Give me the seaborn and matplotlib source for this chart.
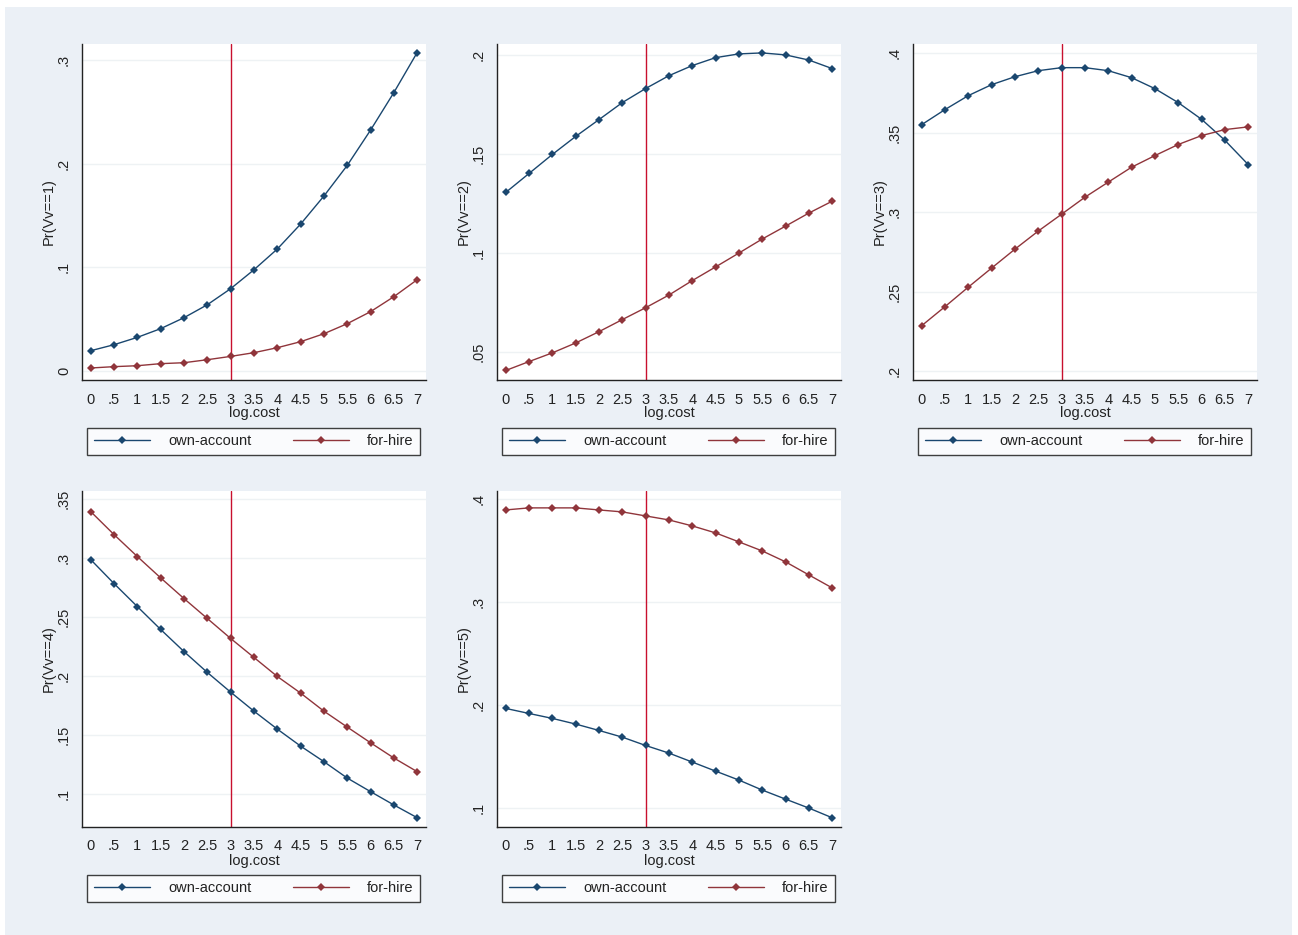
import matplotlib
matplotlib.use("Agg")
import matplotlib.pyplot as plt
from matplotlib.patches import Rectangle
import seaborn as sns
import pandas as pd

sns.set_style("white")
plt.rcParams['font.family'] = ['Liberation Sans', 'DejaVu Sans']

# ---------------- data ----------------
log_cost = [0, 0.5, 1, 1.5, 2, 2.5, 3, 3.5, 4, 4.5, 5, 5.5, 6, 6.5, 7]
x_tick_labels = ["0", ".5", "1", "1.5", "2", "2.5", "3", "3.5", "4", "4.5",
                 "5", "5.5", "6", "6.5", "7"]

own_vv1 = [0.0193, 0.0251, 0.0322, 0.0406, 0.0512, 0.0637, 0.0792, 0.0975,
           0.1175, 0.1416, 0.1687, 0.1983, 0.2324, 0.2687, 0.3074]
hire_vv1 = [0.0026, 0.0039, 0.0048, 0.0068, 0.0077, 0.0106, 0.0138, 0.0174,
            0.0222, 0.0280, 0.0357, 0.0454, 0.0570, 0.0715, 0.0879]

own_vv2 = [0.1307, 0.1403, 0.1499, 0.1590, 0.1675, 0.1761, 0.1832, 0.1897,
           0.1948, 0.1988, 0.2007, 0.2012, 0.2002, 0.1976, 0.1933]
hire_vv2 = [0.0408, 0.0453, 0.0497, 0.0547, 0.0604, 0.0665, 0.0725, 0.0789,
            0.0862, 0.0931, 0.1001, 0.1072, 0.1137, 0.1203, 0.1263]

own_vv3 = [0.3551, 0.3646, 0.3734, 0.3803, 0.3853, 0.3891, 0.3910, 0.3910,
           0.3891, 0.3847, 0.3778, 0.3690, 0.3585, 0.3453, 0.3300]
hire_vv3 = [0.2285, 0.2405, 0.2528, 0.2648, 0.2767, 0.2881, 0.2987, 0.3094,
            0.3189, 0.3283, 0.3356, 0.3426, 0.3482, 0.3520, 0.3537]

own_vv4 = [0.2989, 0.2786, 0.2591, 0.2397, 0.2210, 0.2033, 0.1866, 0.1705,
           0.1553, 0.1409, 0.1277, 0.1138, 0.1023, 0.0910, 0.0802]
hire_vv4 = [0.3396, 0.3201, 0.3015, 0.2834, 0.2659, 0.2490, 0.2321, 0.2160,
            0.1999, 0.1858, 0.1705, 0.1570, 0.1437, 0.1308, 0.1192]

own_vv5 = [0.1968, 0.1919, 0.1871, 0.1816, 0.1754, 0.1689, 0.1608, 0.1534,
           0.1447, 0.1359, 0.1272, 0.1175, 0.1087, 0.1000, 0.0906]
hire_vv5 = [0.3896, 0.3916, 0.3916, 0.3916, 0.3896, 0.3877, 0.3838, 0.3799,
            0.3741, 0.3673, 0.3586, 0.3498, 0.3392, 0.3265, 0.3139]

y_labels = ["Pr(Vv==1)", "Pr(Vv==2)", "Pr(Vv==3)", "Pr(Vv==4)", "Pr(Vv==5)"]
y_ticks_1 = [0, 0.1, 0.2, 0.3]
y_tick_labels_1 = ["0", ".1", ".2", ".3"]
y_ticks_2 = [0.05, 0.1, 0.15, 0.2]
y_tick_labels_2 = [".05", ".1", ".15", ".2"]
y_ticks_3 = [0.2, 0.25, 0.3, 0.35, 0.4]
y_tick_labels_3 = [".2", ".25", ".3", ".35", ".4"]
y_ticks_4 = [0.1, 0.15, 0.2, 0.25, 0.3, 0.35]
y_tick_labels_4 = [".1", ".15", ".2", ".25", ".3", ".35"]
y_ticks_5 = [0.1, 0.2, 0.3, 0.4]
y_tick_labels_5 = [".1", ".2", ".3", ".4"]
series_names = ["own-account", "for-hire"]
ref_x = 3

# ---------------- style ----------------
W, H = 1298, 935
BG = "#EBF0F6"
NAVY = "#1A476F"
MAROON = "#90353B"
VLINE = "#C8102E"
GRID = "#EEF2F4"
TXT = "#222222"

fig = plt.figure(figsize=(W / 100, H / 100), dpi=100)
fig.patch.set_facecolor("white")
fig.patches.append(Rectangle((5 / W, 0), (1292 - 5) / W, (935 - 7) / H,
                             transform=fig.transFigure, facecolor=BG,
                             edgecolor="none", zorder=-10))

panels = [
    (own_vv1, hire_vv1, y_ticks_1, y_tick_labels_1, (-0.009, 0.3157), 82, 44),
    (own_vv2, hire_vv2, y_ticks_2, y_tick_labels_2, (0.036, 0.2057), 497, 44),
    (own_vv3, hire_vv3, y_ticks_3, y_tick_labels_3, (0.1943, 0.4059), 913, 44),
    (own_vv4, hire_vv4, y_ticks_4, y_tick_labels_4, (0.0723, 0.357), 82, 491),
    (own_vv5, hire_vv5, y_ticks_5, y_tick_labels_5, (0.0816, 0.408), 497, 491),
]
AX_W, AX_H = 344, 336

for i, (own, hire, yt, ytl, ylim, px, py) in enumerate(panels):
    ax = fig.add_axes([px / W, (H - py - AX_H) / H, AX_W / W, AX_H / H])
    ax.set_facecolor("white")
    for yv in yt:
        ax.axhline(yv, color=GRID, linewidth=1.0, zorder=0)
    ax.axvline(ref_x, color=VLINE, linewidth=1.0, zorder=1)
    df = pd.DataFrame({"log_cost": log_cost, "own": own, "hire": hire})
    sns.lineplot(data=df, x="log_cost", y="own", ax=ax, color=NAVY,
                 marker="D", markersize=4.5, markeredgewidth=0,
                 linewidth=1.0, legend=False, zorder=3)
    sns.lineplot(data=df, x="log_cost", y="hire", ax=ax, color=MAROON,
                 marker="D", markersize=4.5, markeredgewidth=0,
                 linewidth=1.0, legend=False, zorder=3)
    handles = ax.lines[-2:]
    ax.set_xlim(-0.186, 7.19)
    ax.set_ylim(*ylim)
    ax.set_xticks(log_cost)
    ax.set_xticklabels(x_tick_labels, fontsize=10.5, color=TXT)
    ax.set_yticks(yt)
    ax.set_yticklabels(ytl, fontsize=10.5, color=TXT, rotation=90,
                       va="center")
    ax.tick_params(axis="both", direction="out", length=5, width=0.8,
                   color="#333333", pad=3)
    ax.tick_params(axis="x", pad=4)
    for s in ["top", "right"]:
        ax.spines[s].set_visible(False)
    for s in ["left", "bottom"]:
        ax.spines[s].set_color("#222222")
        ax.spines[s].set_linewidth(1.0)
    ax.set_xlabel("log.cost", fontsize=10.5, color=TXT, labelpad=0)
    ax.set_ylabel(y_labels[i], fontsize=10.5, color=TXT)
    ax.yaxis.label.set_va("center")
    ax.yaxis.set_label_coords(-33 / AX_W, 0.5)
    ax.grid(False)

    # legend box below the axes
    lx0 = (px + 5) / W
    lw = 333 / W
    ly_top = py + AX_H + 48
    lh = 27
    leg = ax.legend(handles, series_names, loc="center",
                    bbox_to_anchor=(lx0, (H - ly_top - lh) / H, lw, lh / H),
                    bbox_transform=fig.transFigure, mode="expand", ncol=2,
                    frameon=True, fancybox=False, borderaxespad=0,
                    handlelength=3.9, handletextpad=1.2, columnspacing=3.0,
                    fontsize=10.5, borderpad=0.45)
    leg.get_frame().set_edgecolor("#111111")
    leg.get_frame().set_linewidth(1.0)
    leg.get_frame().set_facecolor("white")
    for t in leg.get_texts():
        t.set_color(TXT)

fig.savefig("out.png", dpi=100, facecolor=fig.get_facecolor())
